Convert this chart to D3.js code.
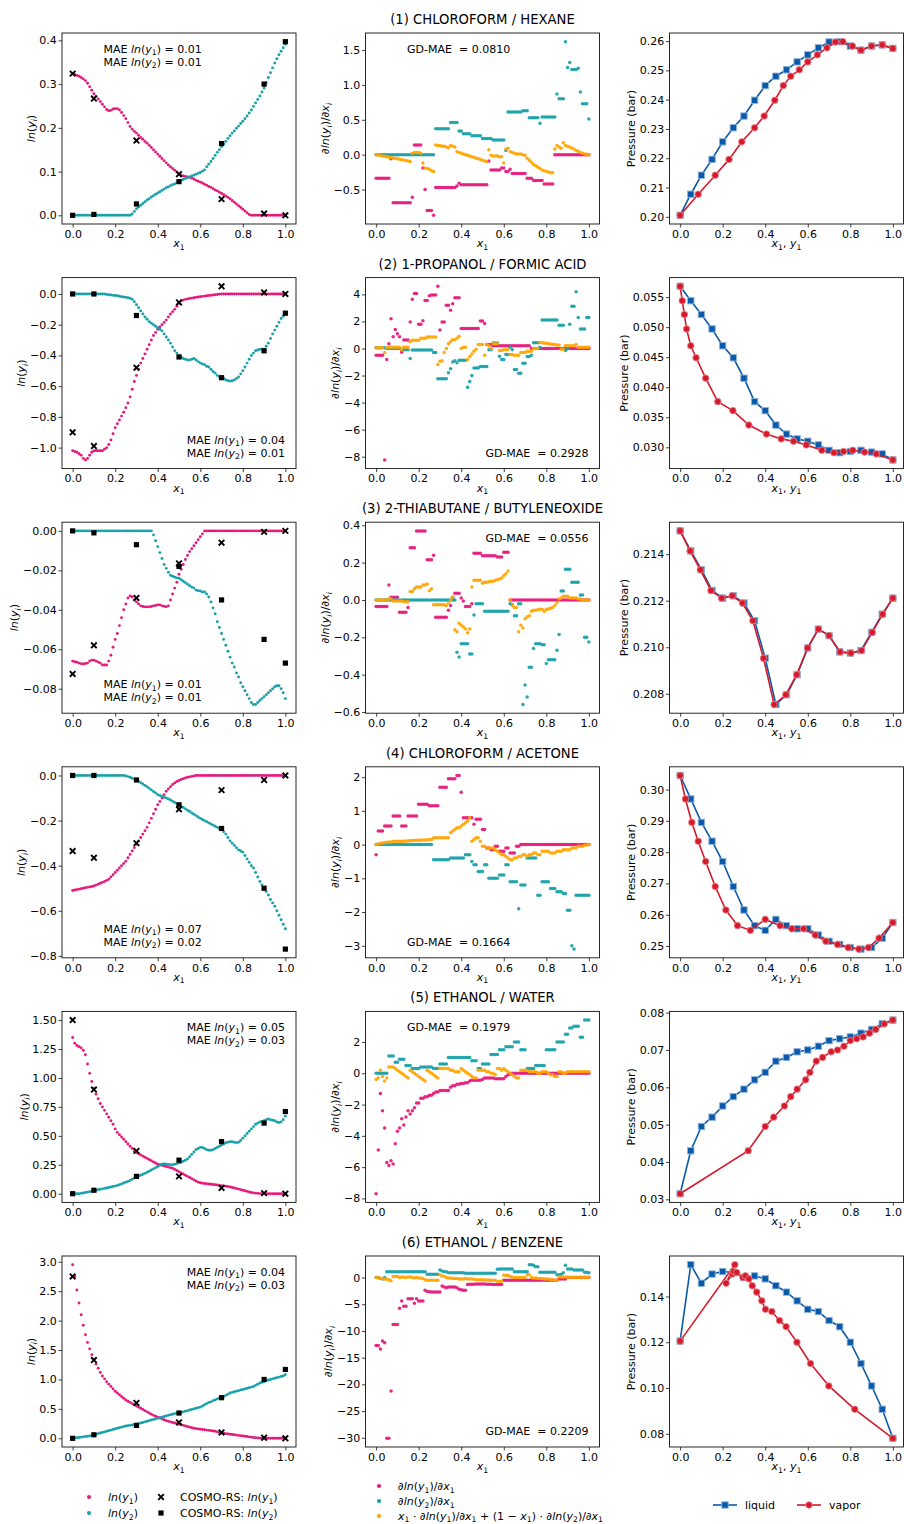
<!DOCTYPE html>
<html>
<head>
<meta charset="utf-8">
<script src="https://cdn.jsdelivr.net/npm/d3@7"></script>
<style>
  body { margin: 0; background: #fff; }
  svg { display: block; }
  text { font-family: "DejaVu Sans", sans-serif; fill: #000; white-space: pre; }
</style>
</head>
<body>
<svg id="fig" width="904" height="1524"></svg>
<script>
// ---------- shared composition grids ----------
const xFine = [0,.01,.02,.03,.04,.05,.06,.07,.08,.09,
  .10,.11,.12,.13,.14,.15,.16,.17,.18,.19,
  .20,.21,.22,.23,.24,.25,.26,.27,.28,.29,
  .30,.31,.32,.33,.34,.35,.36,.37,.38,.39,
  .40,.41,.42,.43,.44,.45,.46,.47,.48,.49,
  .50,.51,.52,.53,.54,.55,.56,.57,.58,.59,
  .60,.61,.62,.63,.64,.65,.66,.67,.68,.69,
  .70,.71,.72,.73,.74,.75,.76,.77,.78,.79,
  .80,.81,.82,.83,.84,.85,.86,.87,.88,.89,
  .90,.91,.92,.93,.94,.95,.96,.97,.98,.99,1];
const xCosmo = [0, .1, .3, .5, .7, .9, 1];
const xLiquid = [0,.05,.10,.15,.20,.25,.30,.35,.40,.45,.50,.55,.60,.65,.70,.75,.80,.85,.90,.95,1];
const xTickVals = [0, .2, .4, .6, .8, 1];

const titles = ["(1) CHLOROFORM / HEXANE", "(2) 1-PROPANOL / FORMIC ACID", "(3) 2-THIABUTANE / BUTYLENEOXIDE",
  "(4) CHLOROFORM / ACETONE", "(5) ETHANOL / WATER", "(6) ETHANOL / BENZENE"];
const maeY1 = ["0.01", "0.04", "0.01", "0.07", "0.05", "0.04"];
const maeY2 = ["0.01", "0.01", "0.01", "0.02", "0.03", "0.03"];
const gdMae = ["0.0810", "0.2928", "0.0556", "0.1664", "0.1979", "0.2209"];

// ---------- system 1: chloroform / hexane ----------
const lnY1_s1 = [.324,.322,.320,.318,.315,.312,.308,.302,.294,.286,
  .278,.272,.266,.260,.254,.248,.242,.239,.240,.243,
  .244,.244,.241,.235,.228,.221,.212,.203,.197,.192,
  .188,.183,.178,.174,.169,.165,.160,.155,.150,.145,
  .140,.135,.130,.125,.120,.115,.111,.107,.103,.099,
  .095,.092,.090,.089,.088,.087,.085,.083,.080,.078,
  .076,.074,.071,.069,.066,.064,.061,.058,.056,.053,
  .050,.047,.044,.041,.038,.034,.030,.026,.022,.018,
  .014,.010,.006,.002,0,0,0,0,0,0,
  0,0,0,0,0,0,0,0,0,0,0];
const lnY2_s1 = [0,0,0,0,0,0,0,0,0,0,
  0,0,0,0,0,0,0,0,0,0,
  0,0,0,0,0,0,0,0,.003,.009,
  .015,.019,.023,.027,.031,.035,.038,.042,.045,.048,
  .051,.054,.057,.060,.063,.065,.068,.070,.072,.075,
  .077,.080,.082,.084,.086,.088,.090,.092,.094,.096,
  .098,.101,.104,.111,.117,.123,.130,.137,.144,.150,
  .157,.163,.169,.176,.182,.188,.193,.199,.204,.210,
  .215,.221,.227,.234,.241,.249,.257,.265,.273,.282,
  .291,.303,.315,.326,.337,.348,.358,.367,.375,.383,.391];
const cosmoY1_s1 = [.324, .267, .171, .094, .037, .004, 0];
const cosmoY2_s1 = [0, .002, .026, .077, .164, .300, .397];
const dY1_s1 = [-.34,-.34,-.34,-.34,-.34,-.34,-.34,-.06,-.69,-.69,
  -.69,-.69,-.69,-.69,-.69,-.69,-.69,-.61,.14,.14,
  .14,.14,-.19,-.50,-.80,-.80,-.80,-.87,-.47,-.47,
  -.47,-.47,-.47,-.47,-.47,-.47,-.47,-.47,-.45,-.41,
  -.43,-.43,-.43,-.43,-.43,-.43,-.43,-.43,-.43,-.43,
  -.43,-.43,-.43,-.09,-.22,-.22,-.22,-.22,-.22,-.19,
  -.19,-.24,-.24,-.21,-.27,-.27,-.27,-.27,-.27,-.27,
  -.27,-.34,-.34,-.34,-.37,-.37,-.37,-.37,-.37,-.42,
  -.42,-.42,-.42,-.42,0,0,0,0,0,0,
  0,0,0,0,0,0,0,0,0,0,0];
const dY2_s1 = [0,0,0,0,0,0,0,0,0,0,
  0,0,0,0,0,0,0,0,0,0,
  0,0,0,0,0,0,0,0,.37,.37,
  .37,.37,.37,.37,.37,.46,.46,.46,.46,.34,
  .34,.30,.30,.30,.30,.27,.27,.27,.27,.27,
  .23,.23,.23,.23,.23,.21,.21,.21,.21,.21,
  .21,.06,.61,.61,.61,.61,.61,.61,.61,.63,
  .63,.63,.53,.53,.53,.53,.53,.45,.54,.54,
  .54,.54,.54,.54,.54,.87,.80,.80,.80,1.62,
  1.25,1.32,1.22,1.22,1.22,1.24,.90,.73,.73,.73,.51];
const gd_s1 = [0,-.006,-.012,-.018,-.024,-.03,-.036,-.042,-.048,-.054,
  -.06,-.066,-.072,-.078,-.084,-.09,-.10,.02,.03,.03,
  .03,.02,-.12,-.19,-.20,-.21,-.23,-.24,.14,.13,
  .13,.12,.12,.11,.10,.13,.12,.11,.04,.03,
  .02,.01,0,-.01,-.02,-.03,-.04,-.05,-.06,-.07,
  -.08,-.09,-.10,.07,-.01,-.02,-.02,-.02,-.03,-.03,
  -.12,.08,.09,.04,.03,.02,.01,.01,.01,0,
  -.01,-.05,-.08,-.11,-.14,-.16,-.18,-.20,-.22,-.23,
  -.24,-.25,-.26,-.26,.08,.13,.11,.09,.17,.13,
  .12,.11,.09,.08,.06,.05,.03,.02,.01,.005,0];
const pLiq_s1 = [.2005,.2077,.2142,.2196,.2256,.2304,.2344,.2398,.2448,.2480,.2502,.2529,.2553,.2577,.2597,.2598,.2583,.2569,.2583,.2587,.2575];
const yVap_s1 = [0,.085,.165,.23,.29,.35,.395,.445,.485,.52,.56,.60,.645,.69,.73,.765,.81,.85,.90,.95,1];

// ---------- system 2: 1-propanol / formic acid ----------
const lnY1_s2 = [-1.02,-1.025,-1.03,-1.04,-1.05,-1.07,-1.08,-1.07,-1.05,-1.03,
  -1.02,-1.02,-1.02,-1.02,-1.02,-1.01,-1.00,-.98,-.95,-.91,
  -.87,-.845,-.82,-.795,-.77,-.74,-.71,-.67,-.62,-.57,
  -.53,-.49,-.45,-.42,-.39,-.36,-.33,-.30,-.27,-.25,
  -.23,-.215,-.20,-.185,-.17,-.15,-.13,-.115,-.10,-.08,
  -.06,-.045,-.04,-.035,-.032,-.03,-.027,-.025,-.022,-.02,
  -.018,-.016,-.014,-.012,-.01,-.009,-.007,-.005,-.003,-.001,
  0,0,0,0,0,0,0,0,0,0,
  0,0,0,0,0,0,0,0,0,0,
  0,0,0,0,0,0,0,0,0,0,0];
const lnY2_s2 = [0,0,0,0,0,0,0,0,0,0,
  0,0,0,0,0,0,-.003,-.005,-.007,-.009,
  -.01,-.012,-.015,-.018,-.02,-.022,-.025,-.028,-.035,-.05,
  -.07,-.09,-.11,-.13,-.15,-.165,-.18,-.19,-.20,-.21,
  -.22,-.23,-.24,-.26,-.28,-.30,-.32,-.345,-.37,-.385,
  -.40,-.41,-.42,-.425,-.43,-.43,-.425,-.42,-.43,-.44,
  -.45,-.455,-.46,-.47,-.475,-.49,-.505,-.515,-.53,-.54,
  -.545,-.55,-.56,-.565,-.567,-.565,-.56,-.55,-.54,-.52,
  -.50,-.475,-.45,-.425,-.40,-.385,-.37,-.365,-.36,-.36,
  -.36,-.34,-.32,-.29,-.26,-.235,-.21,-.185,-.16,-.145,-.13];
const cosmoY1_s2 = [-.90, -.99, -.48, -.055, .05, .01, 0];
const cosmoY2_s2 = [0, 0, -.14, -.41, -.545, -.37, -.125];
const dY1_s2 = [-.5,-.5,-.5,-.5,-8.24,-.82,.35,2.2,.87,1.41,
  1.09,.87,-.27,.62,.62,.62,1.96,3.64,4.06,4.06,
  1.8,1.8,2.05,3.54,3.54,3.9,3.95,3.95,3.95,4.6,
  1.36,1.96,1.96,3.19,3.19,2.82,3.3,3.76,3.76,3.76,
  1.48,1.48,1.48,1.48,1.48,1.48,1.48,1.48,1.48,2.03,
  2.03,1.85,.3,.3,.3,.2,.2,.2,.2,.2,
  .2,.2,.2,.2,.2,.2,.2,.2,.2,.2,
  .2,.2,.2,0,0,0,0,0,0,0,
  0,0,0,0,0,0,0,0,0,0,
  0,0,0,0,0,0,0,0,0,0,0];
const dY2_s2 = [.05,.05,.05,.05,.05,0,0,0,0,0,
  0,0,-.1,-.1,-.1,-.1,-.74,-.12,-.12,-.12,
  -.12,-.12,-.12,-.12,-.12,-.12,-.12,-.3,-.3,-2.23,
  -2.23,-2.23,-2.23,-2.23,-1.8,-1.5,-1.0,-.9,-1.05,-.87,
  -.87,-.87,-.87,-2.87,-2.45,-2.0,-1.44,-1.44,-1.44,-1.34,
  -1.34,-1.34,-1.34,-.1,-.1,.4,.4,.4,-.57,-.82,
  -.82,-.45,-.45,.1,-.1,-1.56,-1.56,-1.83,-1.83,-1.1,
  -1.1,-.6,-.6,-.5,.42,.42,.42,.1,2.1,2.1,
  2.1,2.1,2.1,2.1,2.1,2.1,1.71,1.71,1.71,-.15,
  0,1.8,3.12,3.12,4.2,2.3,1.45,1.45,1.45,2.3,2.3];
const gd_s2 = [.05,.05,.05,.05,-.3,.05,.1,.1,.1,.1,
  .1,.1,-.1,.1,.1,.1,.5,.6,.6,.6,
  .6,.75,.75,.75,.85,.85,.85,.85,.85,-1.19,
  -.95,-.9,-.3,0,.35,.5,.65,.65,.75,.9,
  0,.1,.1,-.82,-.6,-.4,-.2,-.05,.3,.3,
  .3,-.5,.3,.2,0,.35,.35,.35,-.15,-.15,
  -.1,-.1,-.1,-.45,-.45,-.5,-.5,-.5,-.3,-.3,
  -.3,-.2,-.2,-.2,0,0,0,.45,.42,.4,
  .38,.36,.34,.32,.3,.25,.25,-.05,-.05,.2,
  .2,.2,.2,.2,.3,.1,.1,.1,.1,.1,.1];
const pLiq_s2 = [.0568,.0544,.0521,.0497,.0469,.0449,.0415,.0376,.0361,.0337,.0322,.0314,.0310,.0304,.0295,.0291,.0293,.0295,.0292,.0289,.0279];
const yVap_s2 = [0,.01,.02,.03,.05,.075,.12,.177,.248,.323,.406,.475,.533,.593,.666,.723,.768,.812,.867,.922,1];

// ---------- system 3: 2-thiabutane / butyleneoxide ----------
const lnY1_s3 = [-.066,-.0663,-.0666,-.067,-.0673,-.0675,-.0672,-.067,-.066,-.0655,
  -.0655,-.066,-.0665,-.067,-.068,-.068,-.068,-.066,-.063,-.059,
  -.055,-.052,-.048,-.044,-.040,-.037,-.034,-.033,-.0335,-.035,
  -.036,-.037,-.038,-.0383,-.0385,-.0385,-.0385,-.0383,-.038,-.0378,
  -.0375,-.0375,-.038,-.0382,-.0385,-.038,-.035,-.032,-.029,-.026,
  -.022,-.0195,-.017,-.0145,-.0125,-.0105,-.009,-.0075,-.006,-.0045,
  -.003,-.0015,0,0,0,0,0,0,0,0,
  0,0,0,0,0,0,0,0,0,0,
  0,0,0,0,0,0,0,0,0,0,
  0,0,0,0,0,0,0,0,0,0,0];
const lnY2_s3 = [0,0,0,0,0,0,0,0,0,0,
  0,0,0,0,0,0,0,0,0,0,
  0,0,0,0,0,0,0,0,0,0,
  0,0,0,0,0,0,0,0,-.002,-.005,
  -.008,-.011,-.014,-.017,-.019,-.021,-.0225,-.023,-.0235,-.0238,
  -.024,-.0248,-.0255,-.0262,-.027,-.0278,-.0285,-.029,-.030,-.0303,
  -.0305,-.031,-.031,-.032,-.0335,-.036,-.039,-.042,-.046,-.049,
  -.052,-.055,-.058,-.061,-.064,-.067,-.069,-.072,-.074,-.077,
  -.079,-.081,-.083,-.085,-.087,-.088,-.088,-.087,-.086,-.085,
  -.084,-.083,-.082,-.081,-.080,-.079,-.0785,-.0785,-.080,-.082,-.085];
const cosmoY1_s3 = [-.0725, -.058, -.034, -.0165, -.006, -.0005, 0];
const cosmoY2_s3 = [0, -.001, -.007, -.018, -.035, -.055, -.067];
const dY1_s3 = [-.035,-.035,-.035,-.035,-.035,-.035,.08,.014,.014,.014,
  .014,-.066,-.066,-.066,-.066,-.04,.28,.28,.28,.37,
  .37,.37,.37,.37,.215,.215,.215,.24,-.093,-.093,
  -.093,-.093,-.093,-.093,-.055,-.03,.015,.036,.036,.036,
  .01,-.005,-.035,-.035,-.035,-.02,.25,.25,.25,.25,
  .237,.237,.237,.237,.237,.237,.237,.23,.23,.23,
  .256,.256,.256,0,0,0,0,0,0,0,
  0,0,0,0,0,0,0,0,0,0,
  0,0,0,0,0,0,0,0,0,0,
  0,0,0,0,0,0,0,0,0,0,0];
const dY2_s3 = [0,0,0,0,0,0,0,0,0,0,
  0,0,0,0,0,0,0,0,0,0,
  0,0,0,0,0,0,0,0,0,0,
  0,0,0,0,0,0,0,0,-.28,-.305,
  -.235,-.235,-.235,-.235,-.29,-.29,-.08,-.02,-.02,-.02,
  -.02,-.06,-.06,-.06,-.06,-.06,-.06,-.06,-.06,-.06,
  -.06,-.06,-.06,-.02,-.025,-.085,-.085,-.02,-.02,-.56,
  -.455,-.52,-.36,-.36,-.26,-.235,-.235,-.235,-.24,-.24,
  -.34,-.32,-.32,-.32,-.32,-.27,-.185,.048,.048,.165,
  .165,.165,.095,.095,.095,.095,.027,.027,-.2,-.2,-.225];
const gd_s3 = [0,0,0,0,0,0,.005,.005,-.005,-.005,
  -.005,-.005,-.005,-.01,-.01,-.01,.045,.045,.06,.07,
  .07,.07,.08,.08,.085,.05,.06,-.025,-.025,-.025,
  -.025,-.025,-.025,-.03,-.015,0,.015,-.16,-.17,-.125,
  -.135,-.145,-.155,-.175,-.155,.07,.105,.105,.105,.105,
  .09,.095,.095,.097,.1,.1,.105,.108,.112,.118,
  .13,.14,.155,0,-.03,-.04,-.04,-.17,-.135,-.15,
  -.1,-.09,-.085,-.06,-.055,-.055,-.052,-.05,-.05,-.06,
  -.05,-.048,-.045,-.04,-.03,-.015,.005,.01,.02,.02,
  .02,.01,.01,.01,.01,.005,.005,0,0,0,0];
const pLiq_s3 = [.2150,.21414,.21333,.21244,.21211,.21221,.2119,.21114,.20953,.20754,.20796,.20882,.20997,.21078,.2105,.2098,.20975,.20986,.21064,.21142,.21211];
const yVap_s3 = [0,.047,.095,.145,.195,.245,.293,.342,.392,.442,.497,.548,.599,.65,.7,.752,.803,.853,.903,.952,1];

// ---------- system 4: chloroform / acetone ----------
const lnY1_s4 = [-.51,-.508,-.506,-.504,-.502,-.50,-.498,-.496,-.494,-.492,
  -.49,-.486,-.482,-.478,-.474,-.47,-.465,-.46,-.45,-.44,
  -.43,-.42,-.41,-.40,-.39,-.38,-.365,-.35,-.335,-.32,
  -.305,-.29,-.275,-.26,-.245,-.23,-.21,-.19,-.17,-.15,
  -.13,-.115,-.10,-.085,-.07,-.06,-.05,-.04,-.033,-.027,
  -.022,-.018,-.014,-.011,-.008,-.006,-.004,-.002,0,0,
  0,0,0,0,0,0,0,0,0,0,
  0,0,0,0,0,0,0,0,0,0,
  0,0,0,0,0,0,0,0,0,0,
  0,0,0,0,0,0,0,0,0,0,0];
const lnY2_s4 = [0,0,0,0,0,0,0,0,0,0,
  0,0,0,0,0,0,0,0,0,0,
  0,0,0,0,0,-.002,-.005,-.008,-.012,-.016,
  -.02,-.026,-.032,-.038,-.044,-.05,-.057,-.064,-.071,-.078,
  -.085,-.089,-.093,-.097,-.10,-.104,-.109,-.114,-.12,-.125,
  -.13,-.136,-.142,-.148,-.154,-.16,-.166,-.172,-.178,-.184,
  -.19,-.195,-.20,-.205,-.21,-.215,-.22,-.225,-.23,-.235,
  -.24,-.25,-.26,-.275,-.29,-.30,-.31,-.32,-.33,-.335,
  -.34,-.355,-.37,-.385,-.40,-.41,-.43,-.45,-.47,-.485,
  -.50,-.515,-.53,-.55,-.565,-.58,-.60,-.62,-.64,-.66,-.68];
const cosmoY1_s4 = [-.335, -.365, -.30, -.15, -.065, -.02, 0];
const cosmoY2_s4 = [0, 0, -.02, -.13, -.235, -.50, -.77];
const dY1_s4 = [-.3,.4,.4,.4,.55,.55,.55,.55,.85,.85,
  .85,.85,.55,.55,.55,.85,.85,.85,.85,.85,
  1.2,1.2,1.2,1.2,1.2,1.15,1.15,1.15,1.15,1.15,
  1.7,1.7,1.7,1.7,1.95,1.95,1.95,1.95,2.05,2.05,
  1.55,.8,.8,.8,.8,.8,.6,.75,.75,.75,
  .45,.45,-.1,-.1,-.15,-.15,-.05,-.05,-.2,-.2,
  -.2,-.1,-.1,-.25,-.25,-.25,-.05,-.05,0,0,
  0,0,0,0,0,0,0,0,0,0,
  0,0,0,0,0,0,0,0,0,0,
  0,0,0,0,0,0,0,0,0,0,0];
const dY2_s4 = [0,0,0,0,0,0,0,0,0,0,
  0,0,0,0,0,0,0,0,0,0,
  0,0,0,0,0,0,0,-.45,-.45,-.45,
  -.45,-.45,-.45,-.45,-.45,-.4,-.4,-.4,-.4,-.4,
  -.4,-.4,-.3,-.3,-.3,-.5,-.6,-.6,-.8,-.8,
  -.8,-.6,-.6,-1.0,-1.0,-1.0,-1.0,-1.0,-.9,-.9,
  -.9,-.6,-.6,-1.1,-1.1,-1.1,-1.1,-1.9,-1.2,-1.2,
  -1.2,-.4,-.4,-.4,-.4,-.4,-1.5,-1.5,-1.1,-1.1,
  -1.1,-1.1,-1.3,-1.3,-1.3,-1.4,-1.4,-1.4,-1.45,-1.45,
  -1.95,-1.95,-3.0,-3.1,-1.5,-1.5,-1.5,-1.5,-1.5,-1.5,-1.5];
const gd_s4 = [0,.02,.04,.05,.06,.07,.08,.08,.09,.1,
  .1,.1,.1,.1,.11,.11,.12,.12,.12,.13,
  .13,.13,.14,.14,.14,.15,.15,.2,.2,.2,
  .2,.2,.2,.2,.2,.35,.4,.45,.5,.5,
  .55,.6,.65,.7,.8,.1,.15,.2,.2,.1,
  -.05,-.05,-.1,-.1,-.1,-.1,-.15,-.2,-.25,-.3,
  -.3,-.35,-.4,-.45,-.45,-.4,-.4,-.35,-.35,-.3,
  -.3,-.35,-.3,-.3,-.25,-.25,-.3,-.3,-.2,-.2,
  -.2,-.2,-.25,-.25,-.25,-.2,-.2,-.2,-.15,-.15,
  -.15,-.15,-.1,-.1,-.1,-.05,-.05,-.05,-.02,-.01,0];
const pLiq_s4 = [.3045,.297,.2895,.2835,.277,.269,.2615,.2565,.255,.2585,.2565,.2555,.2555,.2535,.2515,.2505,.2495,.249,.2495,.2525,.2575];
const yVap_s4 = [0,.025,.055,.085,.12,.165,.215,.27,.33,.40,.47,.525,.58,.635,.685,.74,.79,.84,.885,.935,1];

// ---------- system 5: ethanol / water ----------
const lnY1_s5 = [1.35,1.30,1.28,1.27,1.26,1.24,1.20,1.12,1.04,.97,
  .91,.86,.82,.78,.75,.72,.69,.66,.63,.60,
  .56,.53,.51,.49,.47,.45,.43,.41,.39,.37,
  .355,.345,.335,.325,.315,.305,.295,.285,.275,.265,
  .255,.25,.245,.24,.235,.23,.225,.22,.21,.20,
  .19,.18,.17,.16,.15,.14,.13,.12,.11,.10,
  .095,.09,.088,.086,.084,.082,.08,.078,.075,.072,
  .07,.068,.065,.062,.058,.054,.05,.045,.04,.035,
  .03,.025,.02,.015,.01,.007,.005,.003,.001,0,
  0,0,0,0,0,0,0,0,0,0,0];
const lnY2_s5 = [0,0,0,0,.003,.006,.01,.014,.018,.022,
  .026,.03,.034,.038,.042,.046,.05,.054,.058,.062,
  .066,.072,.078,.085,.092,.10,.107,.115,.125,.135,
  .145,.152,.16,.168,.176,.185,.195,.205,.215,.225,
  .235,.245,.255,.258,.255,.252,.25,.25,.255,.26,
  .265,.27,.28,.29,.30,.32,.34,.36,.38,.39,
  .40,.40,.39,.38,.375,.375,.38,.39,.40,.41,
  .42,.43,.44,.445,.45,.45,.445,.44,.445,.46,
  .48,.50,.52,.54,.56,.58,.60,.61,.62,.625,
  .63,.64,.645,.64,.635,.63,.62,.615,.62,.64,.67];
const cosmoY1_s5 = [1.50, .90, .37, .15, .05, .005, 0];
const cosmoY2_s5 = [0, .03, .15, .29, .45, .61, .71];
const dY1_s5 = [-7.7,-4.9,-1.3,-2.4,-3.5,-5.7,-5.9,-5.6,-5.8,-4.5,
  -3.7,-3.5,-2.9,-3.3,-2.8,-2.4,-2.6,-2.4,-2.2,-1.9,
  -1.9,-1.6,-1.6,-1.5,-1.5,-1.4,-1.4,-1.3,-1.2,-1.2,
  -1.1,-1.1,-1.1,-1.1,-1.1,-.9,-.8,-.8,-.7,-.7,
  -.65,-.65,-.6,-.6,-.5,-.45,-.45,-.45,-.45,-.45,
  -.4,-.3,-.3,-.3,-.3,-.3,-.35,-.35,-.35,-.35,
  -.35,-.2,-.1,-.05,0,0,0,0,0,0,
  0,0,0,0,0,0,0,0,0,0,
  0,0,0,0,0,0,0,0,0,0,
  0,0,0,0,0,0,0,0,0,0,0];
const dY2_s5 = [0,0,0,0,0,0,1.1,1.1,1.1,.7,
  .7,.9,.9,.9,.5,.5,.5,.3,.3,.3,
  .3,.4,.4,.4,.4,.4,.4,.3,.3,.3,
  .6,.6,.6,.6,1.0,1.0,1.0,1.0,1.0,1.0,
  1.0,1.0,1.0,1.0,1.0,.8,.8,.8,.3,.3,
  .6,.6,.6,.6,1.2,1.2,1.2,1.2,1.5,1.5,
  1.5,1.7,1.7,1.7,1.7,2.0,2.0,2.0,1.5,1.5,
  1.5,.3,.3,.3,.3,.5,.5,.5,.5,.5,
  1.5,1.5,1.5,1.5,1.5,2.0,2.0,2.0,2.0,2.5,
  2.5,2.9,2.9,3.0,3.0,3.0,2.3,2.3,3.4,3.4,3.4];
const gd_s5 = [-.4,-.3,.2,-.2,-.5,-.3,.4,.4,.4,.3,
  .2,.1,0,-.1,-.2,-.3,.2,.1,0,-.1,
  -.2,-.3,-.4,-.5,.2,.1,0,-.1,-.2,-.3,
  .3,.3,.3,.3,.3,.2,.2,.1,.1,.1,
  .3,.2,.1,0,-.1,-.2,-.3,-.3,.2,.2,
  .2,.2,.1,.1,0,0,-.1,.3,.3,.2,
  .3,.2,.1,0,-.1,-.2,-.3,-.3,.2,.2,
  .2,.2,.1,.1,.1,.1,0,0,.1,.1,
  .1,0,-.1,-.1,-.2,-.2,.1,.1,0,0,
  .1,.1,.1,.1,.1,.1,.1,.1,.1,.1,.1];
const pLiq_s5 = [.0315,.043,.0495,.052,.055,.0575,.0595,.062,.064,.067,.068,.0695,.070,.071,.0725,.073,.0735,.0745,.0755,.077,.078];
const yVap_s5 = [0,.32,.40,.44,.49,.52,.55,.59,.61,.64,.67,.71,.74,.77,.80,.83,.86,.89,.92,.96,1];

// ---------- system 6: ethanol / benzene ----------
const lnY1_s6 = [2.95,2.75,2.52,2.3,2.1,1.92,1.76,1.63,1.52,1.42,
  1.34,1.26,1.19,1.12,1.06,1.01,.96,.92,.88,.84,
  .80,.77,.74,.71,.68,.65,.63,.61,.59,.57,
  .55,.53,.51,.49,.47,.45,.43,.41,.39,.375,
  .36,.345,.33,.315,.30,.29,.28,.27,.26,.25,
  .24,.23,.22,.21,.20,.19,.18,.17,.165,.16,
  .155,.15,.145,.14,.135,.13,.125,.12,.11,.10,
  .09,.085,.08,.075,.07,.065,.06,.055,.05,.045,
  .04,.035,.03,.025,.02,.015,.01,.007,.004,.002,
  0,0,0,0,0,0,0,0,0,0,0];
const lnY2_s6 = [0,.005,.01,.015,.02,.025,.03,.035,.04,.05,
  .06,.07,.08,.09,.10,.11,.12,.13,.14,.15,
  .16,.17,.18,.19,.20,.21,.215,.22,.225,.23,
  .24,.25,.26,.27,.28,.29,.30,.31,.32,.33,
  .34,.35,.36,.37,.38,.39,.40,.41,.42,.425,
  .43,.44,.45,.46,.47,.48,.49,.50,.51,.52,
  .53,.55,.57,.59,.61,.62,.64,.65,.67,.68,
  .69,.71,.73,.75,.77,.78,.79,.80,.81,.82,
  .83,.84,.85,.86,.87,.88,.90,.92,.94,.95,
  .96,.98,.99,1.0,1.01,1.02,1.03,1.04,1.05,1.06,1.08];
const cosmoY1_s6 = [2.75, 1.33, .60, .27, .10, .01, 0];
const cosmoY2_s6 = [0, .06, .22, .43, .69, 1.0, 1.17];
const dY1_s6 = [-12.75,-12.75,-13.4,-11.9,-12.2,-30.1,-30.1,-21.25,-8.8,-8.8,
  -8.8,-5.75,-4.4,-5.4,-5.4,-4.0,-4.0,-4.0,-4.8,-4.0,
  -4.4,-4.4,-4.4,-2.4,-2.6,-2.65,-2.7,-2.7,-2.7,-2.7,
  -2.7,-1.6,-1.8,-1.9,-1.8,-1.8,-1.8,-1.8,-1.9,-2.2,
  -2.3,-2.4,-2.4,-1.3,-1.25,-1.25,-1.25,-1.2,-1.2,-1.2,
  -1.2,-1.2,-1.25,-1.25,-1.25,-1.3,-1.3,-1.3,-1.3,-1.3,
  -.5,-.5,-.5,-.5,-.5,-.5,-.5,-.5,-.5,-.5,
  -.5,-.5,-.5,-.5,-.5,-.5,-.5,-.5,-.5,-.5,
  -.5,-.5,-.5,-.5,-.5,-.5,-.3,-.3,-.3,-.3,
  0,0,0,0,0,0,0,0,0,0,0];
const dY2_s6 = [0,0,-.2,-.3,0,1.1,1.1,1.1,1.1,1.1,
  1.1,1.1,1.1,1.1,1.1,1.1,1.1,1.1,1.1,1.1,
  1.1,1.1,1.1,1.1,.6,.6,.6,.6,.6,.6,
  1.4,1.2,1.1,1.1,.9,.9,.9,.9,.9,.9,
  .9,.9,.8,.8,.8,.8,.8,.8,.8,.8,
  .8,.8,.8,.8,.8,.8,.8,1.55,1.6,1.6,
  1.6,1.6,1.6,1.6,1.6,1.1,1.1,1.1,1.1,1.1,
  1.1,1.1,2.4,2.4,2.3,2.0,2.0,1.0,1.0,1.0,
  1.0,1.0,1.0,1.0,1.0,.5,.5,.6,.9,2.3,
  1.6,1.6,1.6,1.4,1.4,1.4,1.4,1.4,1.0,1.0,.9];
const gd_s6 = [0,-.1,-.15,-.2,-.3,-.35,-.4,-.6,.2,.2,
  .2,0,.1,.05,0,.1,.1,0,-.1,0,
  -.1,-.1,-.2,-.4,-.5,-.5,-.5,-.5,-.5,-.5,
  .5,.3,.2,0,-.1,-.1,-.2,-.2,-.2,-.3,
  -.3,-.3,-.2,-.3,-.3,-.3,-.35,-.4,-.4,-.4,
  -.4,-.45,-.45,-.45,-.5,-.5,-.5,-.7,-.7,-.7,
  .4,.4,.4,.2,.1,0,0,0,0,0,
  0,.5,.5,0,-.1,-.1,-.2,-.2,-.2,-.3,
  -.3,-.3,-.4,-.4,-.5,-.5,.1,.1,.1,.1,
  .05,.05,.05,.05,.05,.05,.05,.05,.05,.05,.05];
const pLiq_s6 = [.1205,.1539,.1458,.1498,.1509,.1505,.1483,.149,.1477,.1447,.1419,.1381,.1344,.1334,.1295,.1268,.12,.1107,.1009,.0907,.078];
const yVap_s6 = [0,.257,.216,.245,.252,.266,.295,.307,.323,.339,.36,.384,.401,.431,.467,.498,.549,.613,.699,.821,1];

// ---------- y tick values per panel ----------
const lnTicks = [[0,.1,.2,.3,.4],[-1,-.8,-.6,-.4,-.2,0],[-.08,-.06,-.04,-.02,0],
  [-.8,-.6,-.4,-.2,0],[0,.25,.5,.75,1,1.25,1.5],[0,.5,1,1.5,2,2.5,3]];
const lnDec = [1, 1, 2, 1, 2, 1];
const dTicks = [[-.5,0,.5,1,1.5],[-8,-6,-4,-2,0,2,4],[-.6,-.4,-.2,0,.2,.4],
  [-3,-2,-1,0,1,2],[-8,-6,-4,-2,0,2],[-30,-25,-20,-15,-10,-5,0]];
const dDec = [1, 0, 1, 0, 0, 0];
const pTicks = [[.20,.21,.22,.23,.24,.25,.26],[.030,.035,.040,.045,.050,.055],[.208,.210,.212,.214],
  [.25,.26,.27,.28,.29,.30],[.03,.04,.05,.06,.07,.08],[.08,.10,.12,.14]];
const pDec = [2, 3, 3, 2, 2, 2];

// table assembled from the named arrays above
const systems = [
  {lnY1: lnY1_s1, lnY2: lnY2_s1, c1: cosmoY1_s1, c2: cosmoY2_s1, d1: dY1_s1, d2: dY2_s1, gd: gd_s1, p: pLiq_s1, yv: yVap_s1},
  {lnY1: lnY1_s2, lnY2: lnY2_s2, c1: cosmoY1_s2, c2: cosmoY2_s2, d1: dY1_s2, d2: dY2_s2, gd: gd_s2, p: pLiq_s2, yv: yVap_s2},
  {lnY1: lnY1_s3, lnY2: lnY2_s3, c1: cosmoY1_s3, c2: cosmoY2_s3, d1: dY1_s3, d2: dY2_s3, gd: gd_s3, p: pLiq_s3, yv: yVap_s3},
  {lnY1: lnY1_s4, lnY2: lnY2_s4, c1: cosmoY1_s4, c2: cosmoY2_s4, d1: dY1_s4, d2: dY2_s4, gd: gd_s4, p: pLiq_s4, yv: yVap_s4},
  {lnY1: lnY1_s5, lnY2: lnY2_s5, c1: cosmoY1_s5, c2: cosmoY2_s5, d1: dY1_s5, d2: dY2_s5, gd: gd_s5, p: pLiq_s5, yv: yVap_s5},
  {lnY1: lnY1_s6, lnY2: lnY2_s6, c1: cosmoY1_s6, c2: cosmoY2_s6, d1: dY1_s6, d2: dY2_s6, gd: gd_s6, p: pLiq_s6, yv: yVap_s6}
];

// ---------- layout & style ----------
const COL = {pink: "#e5197b", teal: "#17a1a8", orange: "#ffa500", blue: "#0a5aaa", red: "#d41a2c"};
const colLeft = [62, 365.5, 669.5];
const PW = 234, PH = 191, TOP0 = 33, ROW = 244.6;
const FS = 11;
const maePlace = ["tl", "br", "bl", "bl", "tr", "tr"];
const gdPlace  = ["tl", "br", "tr", "bl", "tl", "br"];

const svg = d3.select("#fig");

// text with italic / subscript runs (mathtext-like)
function rich(parent, x, y, segs, opt = {}) {
  const size = opt.size || FS;
  const t = parent.append("text").attr("x", x).attr("y", y)
    .attr("font-size", size).attr("text-anchor", opt.anchor || "start");
  if (opt.rotate) t.attr("transform", `rotate(-90,${x},${y})`);
  let shift = 0;
  segs.forEach(([str, st]) => {
    const sp = t.append("tspan").text(str);
    const sub = st === "s" || st === "si";
    const target = sub ? size * 0.24 : 0;
    if (target !== shift) { sp.attr("dy", target - shift); shift = target; }
    if (sub) sp.attr("font-size", size * 0.7);
    if (st === "i" || st === "si") sp.attr("font-style", "italic");
  });
  return t;
}
const lnSeg = k => [["ln", "i"], ["(", "r"], ["y", "i"], [k, k === "i" ? "si" : "s"], [")", "r"]];
const dSeg = (k, j) => [["∂", "r"], ...lnSeg(k), ["/∂", "r"], ["x", "i"], [j, j === "i" ? "si" : "s"]];

function padExtent(vals) {
  const [a, b] = d3.extent(vals);
  const m = (b - a) * 0.05;
  return [a - m, b + m];
}

function panelAxes(g, left, top, x, y, yTicks, yDec, xLabelSegs, yLabelSegs) {
  const bot = top + PH;
  g.append("rect").attr("x", left).attr("y", top).attr("width", PW).attr("height", PH)
    .attr("fill", "none").attr("stroke", "#111").attr("stroke-width", 0.9);
  const ax = g.append("g").attr("transform", `translate(0,${bot})`)
    .call(d3.axisBottom(x).tickValues(xTickVals).tickFormat(d3.format(".1f")).tickSize(3.5).tickPadding(2.5));
  const ay = g.append("g").attr("transform", `translate(${left},0)`)
    .call(d3.axisLeft(y).tickValues(yTicks).tickFormat(d3.format(`.${yDec}f`)).tickSize(3.5).tickPadding(1.8));
  [ax, ay].forEach(a => {
    a.select(".domain").remove();
    a.attr("font-size", FS).attr("font-family", '"DejaVu Sans", sans-serif');
    a.selectAll("line").attr("stroke", "#111").attr("stroke-width", 0.8);
  });
  const bb = ay.node().getBBox();
  rich(g, left + PW / 2, bot + 23, xLabelSegs, {anchor: "middle"});
  rich(g, left + bb.x - 4.5, top + PH / 2, yLabelSegs, {anchor: "middle", rotate: true});
}

function placeBlock(place, left, top, lines, g) {
  const bot = top + PH;
  const right = place[1] === "r";
  const x = right ? left + PW - 11 : left + 41.5;
  const n = lines.length;
  lines.forEach((segs, i) => {
    let cy;
    if (place[0] === "t") cy = top + 15.5 + i * 13;
    else cy = bot - 16 - (n - 1 - i) * 13;
    rich(g, x, cy + 4, segs, {anchor: right ? "end" : "start"});
  });
}

systems.forEach((s, r) => {
  const top = TOP0 + r * ROW;
  const g = svg.append("g");

  // ---- column 1: activity coefficients ----
  {
    const left = colLeft[0];
    const x = d3.scaleLinear().domain([-0.05, 1.05]).range([left, left + PW]);
    const y = d3.scaleLinear().domain(padExtent([...s.lnY1, ...s.lnY2, ...s.c1, ...s.c2])).range([top + PH, top]);
    const pts1 = xFine.map((v, i) => [v, s.lnY1[i]]);
    const pts2 = xFine.map((v, i) => [v, s.lnY2[i]]);
    g.append("g").selectAll("circle").data(pts1).join("circle")
      .attr("cx", d => x(d[0])).attr("cy", d => y(d[1])).attr("r", 1.45).attr("fill", COL.pink);
    g.append("g").selectAll("circle").data(pts2).join("circle")
      .attr("cx", d => x(d[0])).attr("cy", d => y(d[1])).attr("r", 1.45).attr("fill", COL.teal);
    g.append("g").selectAll("path").data(xCosmo.map((v, i) => [v, s.c1[i]])).join("path")
      .attr("d", d => `M${x(d[0]) - 2.8},${y(d[1]) - 2.8}L${x(d[0]) + 2.8},${y(d[1]) + 2.8}M${x(d[0]) - 2.8},${y(d[1]) + 2.8}L${x(d[0]) + 2.8},${y(d[1]) - 2.8}`)
      .attr("stroke", "#000").attr("stroke-width", 1.9).attr("fill", "none");
    g.append("g").selectAll("rect").data(xCosmo.map((v, i) => [v, s.c2[i]])).join("rect")
      .attr("x", d => x(d[0]) - 2.6).attr("y", d => y(d[1]) - 2.6).attr("width", 5.2).attr("height", 5.2).attr("fill", "#000");
    panelAxes(g, left, top, x, y, lnTicks[r], lnDec[r], [["x", "i"], ["1", "s"]], lnSeg("i"));
    placeBlock(maePlace[r], left, top, [
      [["MAE ", "r"], ...lnSeg("1"), [" = " + maeY1[r], "r"]],
      [["MAE ", "r"], ...lnSeg("2"), [" = " + maeY2[r], "r"]]
    ], g);
  }

  // ---- column 2: composition derivatives ----
  {
    const left = colLeft[1];
    const x = d3.scaleLinear().domain([-0.05, 1.05]).range([left, left + PW]);
    const y = d3.scaleLinear().domain(padExtent([...s.d1, ...s.d2, ...s.gd])).range([top + PH, top]);
    [[s.d1, COL.pink], [s.d2, COL.teal], [s.gd, COL.orange]].forEach(([arr, c]) => {
      g.append("g").selectAll("circle").data(xFine.map((v, i) => [v, arr[i]])).join("circle")
        .attr("cx", d => x(d[0])).attr("cy", d => y(d[1])).attr("r", 1.75)
        .attr("fill", c).attr("fill-opacity", 0.92);
    });
    panelAxes(g, left, top, x, y, dTicks[r], dDec[r], [["x", "i"], ["1", "s"]], dSeg("i", "i"));
    placeBlock(gdPlace[r], left, top, [[["GD-MAE  = " + gdMae[r], "r"]]], g);
    g.append("text").attr("x", left + PW / 2).attr("y", top - 9).attr("text-anchor", "middle")
      .attr("font-size", 13.2).text(titles[r]);
  }

  // ---- column 3: P-x-y diagram ----
  {
    const left = colLeft[2];
    const x = d3.scaleLinear().domain([-0.05, 1.05]).range([left, left + PW]);
    const y = d3.scaleLinear().domain(padExtent(s.p)).range([top + PH, top]);
    const liq = xLiquid.map((v, i) => [v, s.p[i]]);
    const vap = s.yv.map((v, i) => [v, s.p[i]]);
    const line = d3.line().x(d => x(d[0])).y(d => y(d[1]));
    g.append("path").attr("d", line(liq)).attr("fill", "none").attr("stroke", COL.blue).attr("stroke-width", 1.6);
    g.append("g").selectAll("rect").data(liq).join("rect")
      .attr("x", d => x(d[0]) - 3.2).attr("y", d => y(d[1]) - 3.2).attr("width", 6.4).attr("height", 6.4)
      .attr("fill", COL.blue).attr("stroke", "#8fb3dc").attr("stroke-width", 0.9);
    g.append("path").attr("d", line(vap)).attr("fill", "none").attr("stroke", COL.red).attr("stroke-width", 1.6);
    g.append("g").selectAll("circle").data(vap).join("circle")
      .attr("cx", d => x(d[0])).attr("cy", d => y(d[1])).attr("r", 3.3)
      .attr("fill", COL.red).attr("stroke", "#ec8a92").attr("stroke-width", 0.8);
    panelAxes(g, left, top, x, y, pTicks[r], pDec[r],
      [["x", "i"], ["1", "s"], [", ", "r"], ["y", "i"], ["1", "s"]], [["Pressure (bar)", "r"]]);
  }
});

// ---------- legends ----------
const lg = svg.append("g");
// column 1
lg.append("circle").attr("cx", 89).attr("cy", 1497).attr("r", 2).attr("fill", COL.pink);
lg.append("circle").attr("cx", 89).attr("cy", 1513).attr("r", 2).attr("fill", COL.teal);
rich(lg, 108, 1501, lnSeg("1"));
rich(lg, 108, 1517, lnSeg("2"));
lg.append("path").attr("d", "M158.2,1494.2L163.8,1499.8M158.2,1499.8L163.8,1494.2").attr("stroke", "#000").attr("stroke-width", 1.9);
lg.append("rect").attr("x", 158.4).attr("y", 1510.4).attr("width", 5.2).attr("height", 5.2).attr("fill", "#000");
rich(lg, 180, 1501, [["COSMO-RS: ", "r"], ...lnSeg("1")]);
rich(lg, 180, 1517, [["COSMO-RS: ", "r"], ...lnSeg("2")]);
// column 2 (three rows, kept clear of the bottom edge)
[[1486, COL.pink], [1501, COL.teal], [1516, COL.orange]].forEach(([cy, c]) =>
  lg.append("circle").attr("cx", 379).attr("cy", cy).attr("r", 2.1).attr("fill", c));
rich(lg, 398, 1490, dSeg("1", "1"));
rich(lg, 398, 1505, dSeg("2", "1"));
rich(lg, 398, 1519.5, [["x", "i"], ["1", "s"], [" · ", "r"], ...dSeg("1", "1"), [" + (1 − ", "r"], ["x", "i"], ["1", "s"], [") · ", "r"], ...dSeg("2", "1")]);
// column 3
lg.append("line").attr("x1", 713).attr("x2", 737).attr("y1", 1505).attr("y2", 1505).attr("stroke", COL.blue).attr("stroke-width", 1.6);
lg.append("rect").attr("x", 721.8).attr("y", 1501.8).attr("width", 6.4).attr("height", 6.4).attr("fill", COL.blue).attr("stroke", "#8fb3dc").attr("stroke-width", 0.9);
lg.append("text").attr("x", 745).attr("y", 1509).attr("font-size", FS).text("liquid");
lg.append("line").attr("x1", 797).attr("x2", 821).attr("y1", 1505).attr("y2", 1505).attr("stroke", COL.red).attr("stroke-width", 1.6);
lg.append("circle").attr("cx", 809).attr("cy", 1505).attr("r", 3.3).attr("fill", COL.red).attr("stroke", "#ec8a92").attr("stroke-width", 0.8);
lg.append("text").attr("x", 829).attr("y", 1509).attr("font-size", FS).text("vapor");
</script>
</body>
</html>
